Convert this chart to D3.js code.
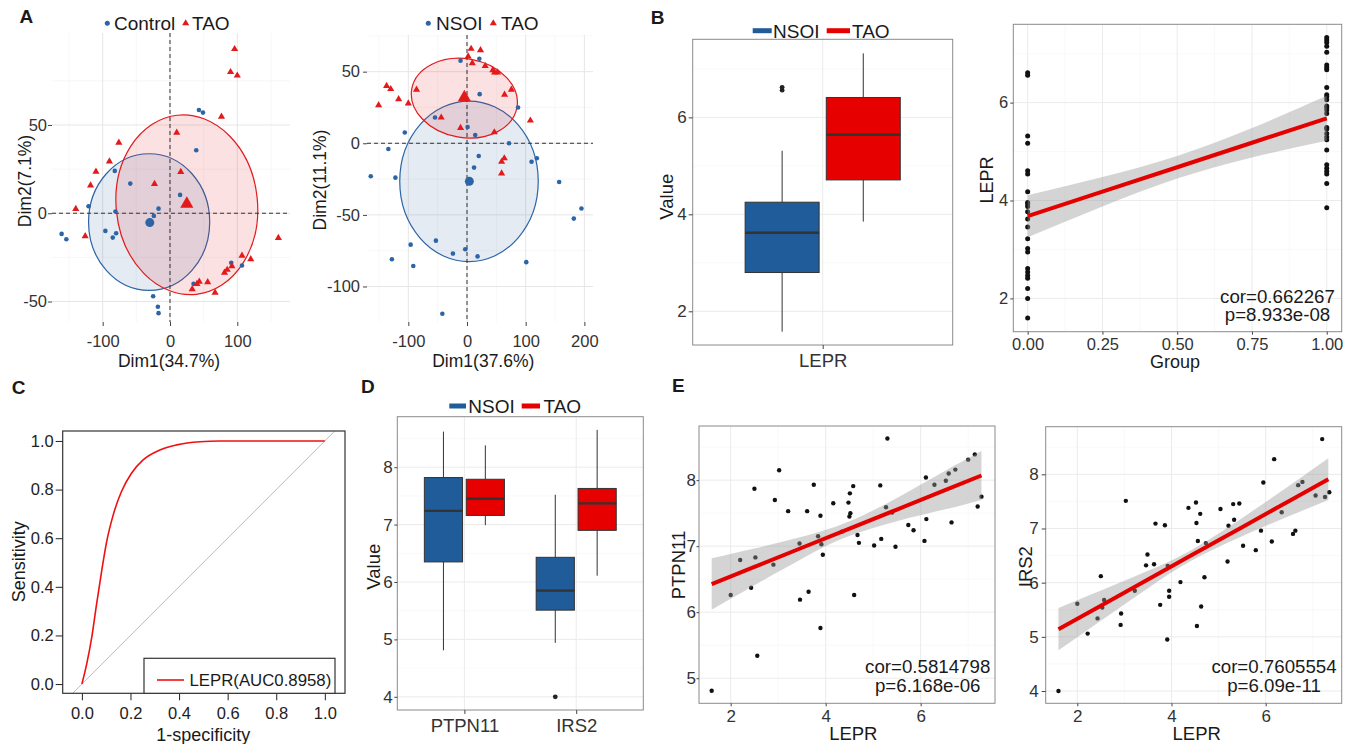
<!doctype html>
<html lang="en">
<head>
<meta charset="utf-8">
<title>LEPR figure</title>
<script src="https://cdn.jsdelivr.net/npm/d3@7"></script>
<style>
  body { margin: 0; background: #fff; }
  svg { display: block; font-family: "Liberation Sans", Arial, sans-serif; }
</style>
</head>
<body>
<svg width="1351" height="744"></svg>
<script>
// ---------- data ----------
// A left: PCA, Control vs TAO  [Dim1, Dim2]
var pca1Ctrl = [[43,58.5],[49,57],[39,35.7],[-82,24],[-59,16.8],[15,10.4],[-121,4],[-17,2.6],[-24,-1.5],[-81,1],
  [-161,-11.7],[-154,-14.7],[-96,-10],[-80,-11.3],[-85,-13.8],[91,-28],[107,-29.6],[35,-40],[-25,-47],[-18,-53],[-17,-56.6]];
var pca1Tao = [[96,93],[90,80],[100,78],[76.5,54.7],[10,45.7],[-76,40],[-90,29.4],[-110,23.6],[16,23.4],[-118,15.8],
  [-23,16.6],[-140,2.5],[-126,-13],[161,-14],[107,-24],[120,-26],[92,-30],[85,-32],[81,-33.6],[40,-40],[43.5,-38.7],
  [56,-39],[33,-43],[67,-45]];
var pca1Mean = [[-30,-5.3],[25,5.3]];
var pca1Ell = [[-31,-5,90,38.7,0],[25,4.8,105,51,-6]];   // cx, cy, rx, ry, tilt

// A right: PCA, NSOI vs TAO
var pca2Nsoi = [[-11,57.7],[21,59],[21.6,34.3],[87,25],[-54.5,18],[-106,7.5],[1,11.4],[14,5.8],[71.6,0],[-134,-4],
  [20,-8.9],[119,-10.5],[110,-12.9],[12,-17],[-164,-23],[-122,-24],[157,-27],[195,-45.6],[182,-52.6],[-53,-68],
  [-96,-70.8],[-24,-77],[-3,-74],[18,-79],[-128,-81],[-91.5,-85.7],[101,-83],[-42,-119]];
var pca2Tao = [[7,66],[23,65],[2,60.7],[9,56],[31,54],[44,51],[47,49.5],[52,49.5],[-137,40],[-130,37.9],[-86,37.4],
  [75.6,37.4],[-116.5,30.8],[64,33.9],[-100,27.8],[-150.6,26.6],[-44,18],[108,15.9],[-11,10.7],[46.6,7.7],
  [63.6,-10.5],[59,-12.9],[59,-21]];
var pca2Mean = [[4,-26.6],[-4.5,32]];
var pca2Ell = [[3.4,-26.6,118,56,0],[-4.5,31.5,91,27.5,10]];

// B
var groups = ["NSOI", "TAO"];
var boxLEPR = [[1.58,2.80,3.62,4.25,5.31],[3.85,4.71,5.64,6.41,7.32]];   // min, q1, median, q3, max
var outLEPR = [[6.56,6.62],[]];
var lepNsoi = [6.61,6.56,5.32,5.17,4.61,4.54,4.18,3.96,3.93,3.88,3.77,3.62,3.46,3.22,3.02,2.95,2.61,2.54,2.47,2.41,2.20,2.00,1.60];
var lepTao = [7.33,7.28,7.23,7.15,7.03,6.77,6.72,6.67,6.31,6.16,6.12,6.06,5.93,5.90,5.85,5.78,5.49,5.46,5.37,5.30,5.24,5.03,4.73,4.66,4.60,4.54,4.35,3.85];
var fitGrpX = [0,0.25,0.5,0.75,1];
var fitGrpY = [3.68,4.18,4.68,5.18,5.68];
var fitGrpHw = [0.43,0.30,0.23,0.30,0.46];

// C: ROC
var rocFpr = [0,0.019,0.040,0.060,0.081,0.102,0.129,0.163,0.204,0.252,0.321,0.390,0.486,0.568,0.7,1.0];
var rocTpr = [0,0.079,0.189,0.326,0.463,0.586,0.696,0.792,0.867,0.922,0.963,0.984,0.997,1.0,1.0,1.0];

// D
var genes = ["PTPN11", "IRS2"];
var boxPTPN11 = [[4.81,6.35,7.24,7.82,8.62],[6.99,7.16,7.45,7.79,8.38]];
var boxIRS2 = [[4.94,5.51,5.85,6.43,7.52],[6.11,6.90,7.37,7.63,8.65]];
var outPTPN11 = [[],[]];
var outIRS2 = [[4.00],[]];

// E: LEPR vs PTPN11 / IRS2
var ePtpn = [[5.30,8.63],[3.02,8.15],[7.14,8.39],[7.0,8.31],[6.73,8.16],[6.59,8.10],[6.53,7.99],[6.11,8.04],[6.29,7.93],
  [2.50,7.87],[3.75,7.93],[4.58,7.91],[5.15,7.92],[4.51,7.80],[2.93,7.70],[4.16,7.65],[4.48,7.66],[7.28,7.75],[7.2,7.60],
  [3.21,7.53],[3.61,7.53],[5.27,7.59],[5.40,7.51],[4.52,7.50],[3.89,7.46],[4.50,7.45],[5.74,7.32],[6.12,7.41],[5.85,7.24],
  [6.65,7.36],[4.34,7.22],[4.67,7.17],[3.84,7.15],[5.17,7.11],[3.45,7.04],[3.91,7.03],[4.70,7.05],[5.02,7.01],[5.47,6.99],
  [6.08,7.08],[3.94,6.87],[2.90,6.72],[2.52,6.83],[2.20,6.79],[2.0,6.26],[2.43,6.37],[3.64,6.31],[3.46,6.19],[4.60,6.26],
  [3.89,5.76],[2.56,5.34],[1.60,4.81]];
var fitPtpnX = [1.6,2.5,3.5,4.45,5.5,6.5,7.28];
var fitPtpnY = [6.426,6.686,6.976,7.251,7.555,7.844,8.07];
var fitPtpnHw = [0.39,0.278,0.166,0.11,0.176,0.29,0.37];

var eIrs = [[7.20,8.65],[6.18,8.28],[5.95,7.85],[6.69,7.80],[6.78,7.86],[7.06,7.61],[7.26,7.58],[7.35,7.67],[3.03,7.51],
  [4.52,7.48],[4.36,7.38],[5.04,7.36],[5.31,7.45],[5.44,7.46],[4.61,7.27],[6.34,7.30],[3.66,7.09],[3.86,7.06],[4.53,7.10],
  [5.33,7.16],[5.21,7.05],[5.90,6.96],[6.63,6.96],[6.58,6.90],[4.56,6.77],[4.73,6.73],[6.13,6.76],[5.52,6.68],[5.79,6.60],
  [5.19,6.39],[3.49,6.52],[3.46,6.32],[3.63,6.34],[3.92,6.31],[2.50,6.12],[4.70,6.10],[4.19,6.01],[3.95,5.85],[3.22,5.85],
  [3.95,5.74],[2.0,5.61],[2.57,5.68],[2.53,5.54],[3.76,5.59],[4.63,5.56],[2.43,5.34],[2.93,5.43],[2.22,5.06],[2.92,5.22],
  [4.54,5.20],[3.91,4.95],[1.60,4.00]];
var fitIrsX = [1.6,2.5,3.5,4.45,5.5,6.5,7.33];
var fitIrsY = [5.14,5.575,6.058,6.518,7.025,7.509,7.91];
var fitIrsHw = [0.39,0.28,0.16,0.10,0.17,0.28,0.385];

// ---------- drawing ----------
var svg = d3.select("svg");
var TXT = "#1a1a1a";
var BLUE = "#2c64a5", RED = "#e31a1c", BOXBLUE = "#1f5c99", BOXRED = "#e60000";
var intFmt = function (d) { return String(d); };

function label(x, y, t, size, anchor, weight) {
  return svg.append("text").attr("x", x).attr("y", y).attr("font-size", size)
    .attr("text-anchor", anchor || "start").attr("font-weight", weight || null)
    .attr("fill", TXT).text(t);
}
function vlabel(x, y, t, size) {
  return svg.append("text").attr("transform", "translate(" + x + "," + y + ") rotate(-90)")
    .attr("font-size", size).attr("text-anchor", "middle").attr("fill", TXT).text(t);
}
function styleAxis(sel, size, col) {
  sel.attr("font-size", null).attr("font-family", null);
  sel.select(".domain").remove();
  sel.selectAll(".tick text").attr("font-size", size).attr("fill", col || "#333");
  sel.selectAll(".tick line").attr("stroke", col || "#444");
}
function grid(g, box, vMaj, vMin, hMaj, hMin, cMaj, cMin) {
  g.append("g").selectAll("line").data(vMin).join("line")
    .attr("x1", d => d).attr("x2", d => d).attr("y1", box[2]).attr("y2", box[3])
    .attr("stroke", cMin).attr("stroke-width", 0.6);
  g.append("g").selectAll("line").data(hMin).join("line")
    .attr("y1", d => d).attr("y2", d => d).attr("x1", box[0]).attr("x2", box[1])
    .attr("stroke", cMin).attr("stroke-width", 0.6);
  g.append("g").selectAll("line").data(vMaj).join("line")
    .attr("x1", d => d).attr("x2", d => d).attr("y1", box[2]).attr("y2", box[3])
    .attr("stroke", cMaj).attr("stroke-width", 1);
  g.append("g").selectAll("line").data(hMaj).join("line")
    .attr("y1", d => d).attr("y2", d => d).attr("x1", box[0]).attr("x2", box[1])
    .attr("stroke", cMaj).attr("stroke-width", 1);
}
function border(g, box) {
  g.append("rect").attr("x", box[0]).attr("y", box[2]).attr("width", box[1] - box[0])
    .attr("height", box[3] - box[2]).attr("fill", "none").attr("stroke", "#8a8a8a").attr("stroke-width", 1);
}

// PCA panel
function pca(o) {
  var x = d3.scaleLinear().domain(o.xd).range([o.box[0], o.box[1]]);
  var y = d3.scaleLinear().domain(o.yd).range([o.box[3], o.box[2]]);
  var g = svg.append("g");
  grid(g, o.box, o.xMaj.map(x), o.xMin.map(x), o.yMaj.map(y), o.yMin.map(y), "#e6e6e6", "#f2f2f2");
  var kx = x(1) - x(0), ky = y(0) - y(1), cols = [BLUE, RED];
  g.append("g").selectAll("ellipse").data(o.ell).join("ellipse")
    .attr("cx", d => x(d[0])).attr("cy", d => y(d[1]))
    .attr("rx", d => d[2] * kx).attr("ry", d => d[3] * ky)
    .attr("transform", d => "rotate(" + d[4] + "," + x(d[0]) + "," + y(d[1]) + ")")
    .attr("fill", (d, i) => cols[i]).attr("fill-opacity", 0.13)
    .attr("stroke", (d, i) => cols[i]).attr("stroke-width", 1.2);
  g.append("line").attr("x1", x(0)).attr("x2", x(0)).attr("y1", o.box[2]).attr("y2", o.box[3])
    .attr("stroke", "#333").attr("stroke-dasharray", "4,3");
  g.append("line").attr("y1", y(0)).attr("y2", y(0)).attr("x1", o.box[0]).attr("x2", o.box[1])
    .attr("stroke", "#333").attr("stroke-dasharray", "4,3");
  g.append("g").selectAll("circle").data(o.a).join("circle")
    .attr("cx", d => x(d[0])).attr("cy", d => y(d[1])).attr("r", 2.3).attr("fill", BLUE);
  g.append("g").selectAll("path").data(o.b).join("path")
    .attr("d", d3.symbol(d3.symbolTriangle, 22))
    .attr("transform", d => "translate(" + x(d[0]) + "," + y(d[1]) + ")").attr("fill", RED);
  g.append("circle").attr("cx", x(o.mean[0][0])).attr("cy", y(o.mean[0][1])).attr("r", 4.5).attr("fill", BLUE);
  g.append("path").attr("d", d3.symbol(d3.symbolTriangle, 75)())
    .attr("transform", "translate(" + x(o.mean[1][0]) + "," + y(o.mean[1][1]) + ")").attr("fill", RED);
  g.append("g").attr("transform", "translate(0," + o.box[3] + ")")
    .call(d3.axisBottom(x).tickValues(o.xMaj).tickSize(4).tickPadding(9).tickFormat(intFmt))
    .call(s => styleAxis(s, 16.5));
  g.append("g").attr("transform", "translate(" + o.box[0] + ",0)")
    .call(d3.axisLeft(y).tickValues(o.yMaj).tickSize(4).tickPadding(o.ypad).tickFormat(intFmt))
    .call(s => styleAxis(s, 16.5));
  // legend
  var L = o.leg;
  g.append("circle").attr("cx", L[0]).attr("cy", 23.3).attr("r", 2.5).attr("fill", BLUE);
  label(L[1], 30, o.names[0], 19);
  g.append("path").attr("d", d3.symbol(d3.symbolTriangle, 22)())
    .attr("transform", "translate(" + L[2] + ",23.3)").attr("fill", RED);
  label(L[3], 30, o.names[1], 19);
}

pca({box: [52, 290, 33, 322], xd: [-175.3, 178.3], yd: [-61.6, 102.1],
  xMaj: [-100, 0, 100], xMin: [-150, -50, 50, 150], yMaj: [-50, 0, 50], yMin: [-25, 25, 75],
  ell: pca1Ell, a: pca1Ctrl, b: pca1Tao, mean: pca1Mean, ypad: 1,
  leg: [107.3, 114, 185.7, 192], names: ["Control", "TAO"]});
label(19.5, 22.7, "A", 19, "start", "bold");
label(169, 367, "Dim1(34.7%)", 17.5, "middle");
vlabel(30.5, 181, "Dim2(7.1%)", 17.5);

pca({box: [367, 593, 35, 322], xd: [-170.4, 214.7], yd: [-124.8, 75.6],
  xMaj: [-100, 0, 100, 200], xMin: [-150, -50, 50, 150], yMaj: [-100, -50, 0, 50], yMin: [-75, -25, 25, 75],
  ell: pca2Ell, a: pca2Nsoi, b: pca2Tao, mean: pca2Mean, ypad: 3,
  leg: [428.3, 436, 493.3, 501], names: ["NSOI", "TAO"]});
label(483.3, 367, "Dim1(37.6%)", 17.5, "middle");
vlabel(326, 180, "Dim2(11.1%)", 17.5);

// boxplot helper
function boxes(g, c, step, y, stats, outs) {
  var cols = [BOXBLUE, BOXRED];
  stats.forEach(function (s, i) {
    var x0 = i === 0 ? c - 0.358 * step : c + 0.0165 * step;
    var x1 = i === 0 ? c - 0.0165 * step : c + 0.358 * step;
    var xm = (x0 + x1) / 2;
    g.append("line").attr("x1", xm).attr("x2", xm).attr("y1", y(s[0])).attr("y2", y(s[1])).attr("stroke", "#333");
    g.append("line").attr("x1", xm).attr("x2", xm).attr("y1", y(s[3])).attr("y2", y(s[4])).attr("stroke", "#333");
    g.append("rect").attr("x", x0).attr("width", x1 - x0).attr("y", y(s[3])).attr("height", y(s[1]) - y(s[3]))
      .attr("fill", cols[i]).attr("stroke", "#333").attr("stroke-width", 1);
    g.append("line").attr("x1", x0).attr("x2", x1).attr("y1", y(s[2])).attr("y2", y(s[2]))
      .attr("stroke", "#333").attr("stroke-width", 2.4);
    g.append("g").selectAll("circle").data(outs[i]).join("circle")
      .attr("cx", xm).attr("cy", d => y(d)).attr("r", 2.4).attr("fill", "#222");
  });
}
function boxLegend(x, yy) {
  svg.append("line").attr("x1", x[0]).attr("x2", x[1]).attr("y1", yy).attr("y2", yy).attr("stroke", BOXBLUE).attr("stroke-width", 5);
  label(x[2], yy + 7, groups[0], 19);
  svg.append("line").attr("x1", x[3]).attr("x2", x[4]).attr("y1", yy).attr("y2", yy).attr("stroke", BOXRED).attr("stroke-width", 5);
  label(x[5], yy + 7, groups[1], 19);
}

// B left
(function () {
  var box = [692.7, 952.7, 39.3, 345];
  var x = d3.scalePoint().domain(["LEPR"]).range([box[0], box[1]]).padding(0.6);
  var y = d3.scaleLinear().domain([1.305, 7.61]).range([box[3], box[2]]);
  var g = svg.append("g");
  grid(g, box, [x("LEPR")], [], [2, 4, 6].map(y), [3, 5, 7].map(y), "#ebebeb", "#f5f5f5");
  boxes(g, x("LEPR"), x.step(), y, boxLEPR, outLEPR);
  border(g, box);
  g.append("g").attr("transform", "translate(0," + box[3] + ")")
    .call(d3.axisBottom(x).tickSize(4).tickPadding(5)).call(s => styleAxis(s, 18.5));
  g.append("g").attr("transform", "translate(" + box[0] + ",0)")
    .call(d3.axisLeft(y).tickValues([2, 4, 6]).tickSize(4).tickPadding(2).tickFormat(intFmt)).call(s => styleAxis(s, 17));
  boxLegend([752.7, 771.7, 773, 826.7, 850, 852], 30.7);
  label(650.7, 24, "B", 19, "start", "bold");
  vlabel(673.3, 196.7, "Value", 18.5);
})();

// regression scatter helper
function scatter(o) {
  var x = d3.scaleLinear().domain(o.xd).range([o.box[0], o.box[1]]);
  var y = d3.scaleLinear().domain(o.yd).range([o.box[3], o.box[2]]);
  var g = svg.append("g");
  grid(g, o.box, o.xMaj.map(x), o.xMin.map(x), o.yMaj.map(y), o.yMin.map(y), "#ebebeb", "#f5f5f5");
  g.append("g").selectAll("circle").data(o.pts).join("circle")
    .attr("cx", d => x(d[0])).attr("cy", d => y(d[1])).attr("r", o.r).attr("fill", "#111");
  var fit = o.fx.map((v, i) => [v, o.fy[i], o.fh[i]]);
  g.append("path").datum(fit)
    .attr("d", d3.area().curve(d3.curveNatural).x(d => x(d[0])).y0(d => y(d[1] - d[2])).y1(d => y(d[1] + d[2])))
    .attr("fill", "#999").attr("fill-opacity", 0.42);
  g.append("path").datum(fit)
    .attr("d", d3.line().x(d => x(d[0])).y(d => y(d[1])))
    .attr("fill", "none").attr("stroke", "#e50000").attr("stroke-width", 4);
  border(g, o.box);
  g.append("g").attr("transform", "translate(0," + o.box[3] + ")")
    .call(d3.axisBottom(x).tickValues(o.xMaj).tickSize(3).tickPadding(4).tickFormat(o.xf))
    .call(s => styleAxis(s, o.fs));
  g.append("g").attr("transform", "translate(" + o.box[0] + ",0)")
    .call(d3.axisLeft(y).tickValues(o.yMaj).tickSize(o.ytk).tickPadding(o.ypad).tickFormat(intFmt))
    .call(s => styleAxis(s, o.fs));
  label(o.ann[0], o.ann[1], o.txt[0], 18.7, "middle");
  label(o.ann[0], o.ann[2], o.txt[1], 18.7, "middle");
}

// B right
scatter({box: [1013.3, 1341.7, 24.3, 331.7], xd: [-0.048, 1.05], yd: [1.32, 7.60],
  xMaj: [0, 0.25, 0.5, 0.75, 1], xMin: [0.125, 0.375, 0.625, 0.875], yMaj: [2, 4, 6], yMin: [3, 5, 7],
  pts: lepNsoi.map(v => [0, v]).concat(lepTao.map(v => [1, v])), r: 2.5,
  fx: fitGrpX, fy: fitGrpY, fh: fitGrpHw, xf: d3.format(".2f"), fs: 16.5, ytk: 3, ypad: 2,
  ann: [1277.5, 302.7, 321], txt: ["cor=0.662267", "p=8.933e-08"]});
vlabel(993, 180, "LEPR", 18);
label(1175, 368, "Group", 18, "middle");

// C: ROC
(function () {
  var box = [62.7, 345, 431, 693.3];
  var x = d3.scaleLinear().domain([-0.079, 1.083]).range([box[0], box[1]]);
  var y = d3.scaleLinear().domain([-0.038, 1.041]).range([box[3], box[2]]);
  var g = svg.append("g");
  g.append("line").attr("x1", x(-0.038)).attr("y1", y(-0.038)).attr("x2", x(1.041)).attr("y2", y(1.041))
    .attr("stroke", "#bdbdbd").attr("stroke-width", 1);
  g.append("path").datum(rocFpr.map((v, i) => [v, rocTpr[i]]))
    .attr("d", d3.line().curve(d3.curveMonotoneX).x(d => x(d[0])).y(d => y(d[1])))
    .attr("fill", "none").attr("stroke", "#f01010").attr("stroke-width", 1.6);
  g.append("rect").attr("x", box[0]).attr("y", box[2]).attr("width", box[1] - box[0]).attr("height", box[3] - box[2])
    .attr("fill", "none").attr("stroke", "#333").attr("stroke-width", 1.2);
  var ticks = [0, 0.2, 0.4, 0.6, 0.8, 1];
  g.append("g").attr("transform", "translate(0," + box[3] + ")")
    .call(d3.axisBottom(x).tickValues(ticks).tickSize(7).tickPadding(7).tickFormat(d3.format(".1f")))
    .call(s => styleAxis(s, 16.5, "#222"));
  g.append("g").attr("transform", "translate(" + box[0] + ",0)")
    .call(d3.axisLeft(y).tickValues(ticks).tickSize(7).tickPadding(2).tickFormat(d3.format(".1f")))
    .call(s => styleAxis(s, 16.5, "#222"));
  // legend
  g.append("rect").attr("x", 144).attr("y", 658.3).attr("width", 191).attr("height", 35)
    .attr("fill", "#fff").attr("stroke", "#333").attr("stroke-width", 1.2);
  g.append("line").attr("x1", 157).attr("x2", 184).attr("y1", 680).attr("y2", 680).attr("stroke", "#f01010").attr("stroke-width", 1.6);
  label(189.5, 686, "LEPR(AUC0.8958)", 16.8);
  label(11.7, 394, "C", 19, "start", "bold");
  vlabel(24.5, 561.7, "Sensitivity", 18);
  label(203.3, 741, "1-specificity", 18, "middle");
})();

// D
(function () {
  var box = [397.3, 643.3, 416.7, 710];
  var x = d3.scalePoint().domain(genes).range([box[0], box[1]]).padding(0.6);
  var y = d3.scaleLinear().domain([3.77, 8.88]).range([box[3], box[2]]);
  var g = svg.append("g");
  grid(g, box, genes.map(x), [], [4, 5, 6, 7, 8].map(y), [4.5, 5.5, 6.5, 7.5, 8.5].map(y), "#ebebeb", "#f5f5f5");
  boxes(g, x("PTPN11"), x.step(), y, boxPTPN11, outPTPN11);
  boxes(g, x("IRS2"), x.step(), y, boxIRS2, outIRS2);
  border(g, box);
  g.append("g").attr("transform", "translate(0," + box[3] + ")")
    .call(d3.axisBottom(x).tickSize(4).tickPadding(5)).call(s => styleAxis(s, 18.5));
  g.append("g").attr("transform", "translate(" + box[0] + ",0)")
    .call(d3.axisLeft(y).tickValues([4, 5, 6, 7, 8]).tickSize(3).tickPadding(1.5).tickFormat(intFmt)).call(s => styleAxis(s, 17));
  boxLegend([449.3, 466, 468.3, 521.7, 540, 543.5], 406);
  label(361, 393, "D", 19, "start", "bold");
  vlabel(380, 566.7, "Value", 18.5);
})();

// E left
scatter({box: [699, 995, 426, 703.3], xd: [1.333, 7.565], yd: [4.62, 8.82],
  xMaj: [2, 4, 6], xMin: [3, 5, 7], yMaj: [5, 6, 7, 8], yMin: [5.5, 6.5, 7.5, 8.5],
  pts: ePtpn, r: 2.2, fx: fitPtpnX, fy: fitPtpnY, fh: fitPtpnHw, xf: intFmt, fs: 17, ytk: 2.5, ypad: 0.5,
  ann: [927.7, 673.3, 691.7], txt: ["cor=0.5814798", "p=6.168e-06"]});
label(672, 392, "E", 19, "start", "bold");
vlabel(685, 565, "PTPN11", 18.5);
label(853.3, 740, "LEPR", 18.5, "middle");

// E right
scatter({box: [1045.7, 1341.7, 426.7, 703.3], xd: [1.329, 7.614], yd: [3.773, 8.879],
  xMaj: [2, 4, 6], xMin: [3, 5, 7], yMaj: [4, 5, 6, 7, 8], yMin: [4.5, 5.5, 6.5, 7.5, 8.5],
  pts: eIrs, r: 2.2, fx: fitIrsX, fy: fitIrsY, fh: fitIrsHw, xf: intFmt, fs: 17, ytk: 4, ypad: 3,
  ann: [1274, 673.3, 691.7], txt: ["cor=0.7605554", "p=6.09e-11"]});
vlabel(1031.7, 566.7, "IRS2", 18.5);
label(1196.7, 740, "LEPR", 18.5, "middle");
</script>
</body>
</html>
